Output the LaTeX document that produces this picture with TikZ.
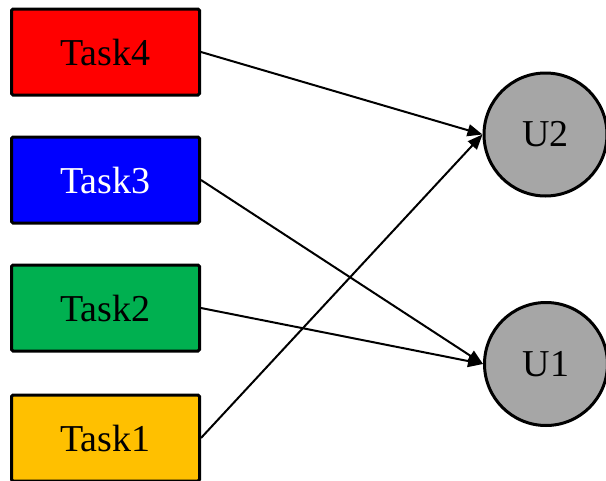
\documentclass[tikz,border=0pt]{standalone}
\usepackage{fontspec}
\setmainfont{Liberation Serif}
\usetikzlibrary{arrows.meta}
\definecolor{tred}{HTML}{FF0000}
\definecolor{tblue}{HTML}{0000FF}
\definecolor{tgreen}{HTML}{00B050}
\definecolor{tyellow}{HTML}{FFC000}
\definecolor{ugray}{HTML}{A6A6A6}
\begin{document}
\begin{tikzpicture}[x=1pt,y=-1pt,
  taskbox/.style={draw=black,line width=3pt,rounded corners=1.5pt,minimum width=188pt,minimum height=86pt,inner sep=0pt,font=\fontsize{38}{42}\selectfont},
  ucirc/.style={circle,draw=black,line width=3pt,fill=ugray,minimum size=123pt,inner sep=0pt,font=\fontsize{38}{42}\selectfont},
  conn/.style={line width=2pt,-{Triangle[length=15pt,width=12pt]}}]
\useasboundingbox (0,0) rectangle (606,480);
\clip (0,0) rectangle (606,480);
\node[taskbox,fill=tred] (t4) at (105.5,52) {Task4};
\node[taskbox,fill=tblue,text=white] (t3) at (105.5,180) {Task3};
\node[taskbox,fill=tgreen] (t2) at (105.5,308) {Task2};
\node[taskbox,fill=tyellow] (t1) at (105.5,438) {Task1};
\node[ucirc] (u2) at (545.5,134.5) {U2};
\node[ucirc] (u1) at (546,364) {U1};
\draw[conn] (t4.east) -- (u2.west);
\draw[conn] (t1.east) -- (u2.west);
\draw[conn] (t3.east) -- (u1.west);
\draw[conn] (t2.east) -- (u1.west);
\end{tikzpicture}
\end{document}
